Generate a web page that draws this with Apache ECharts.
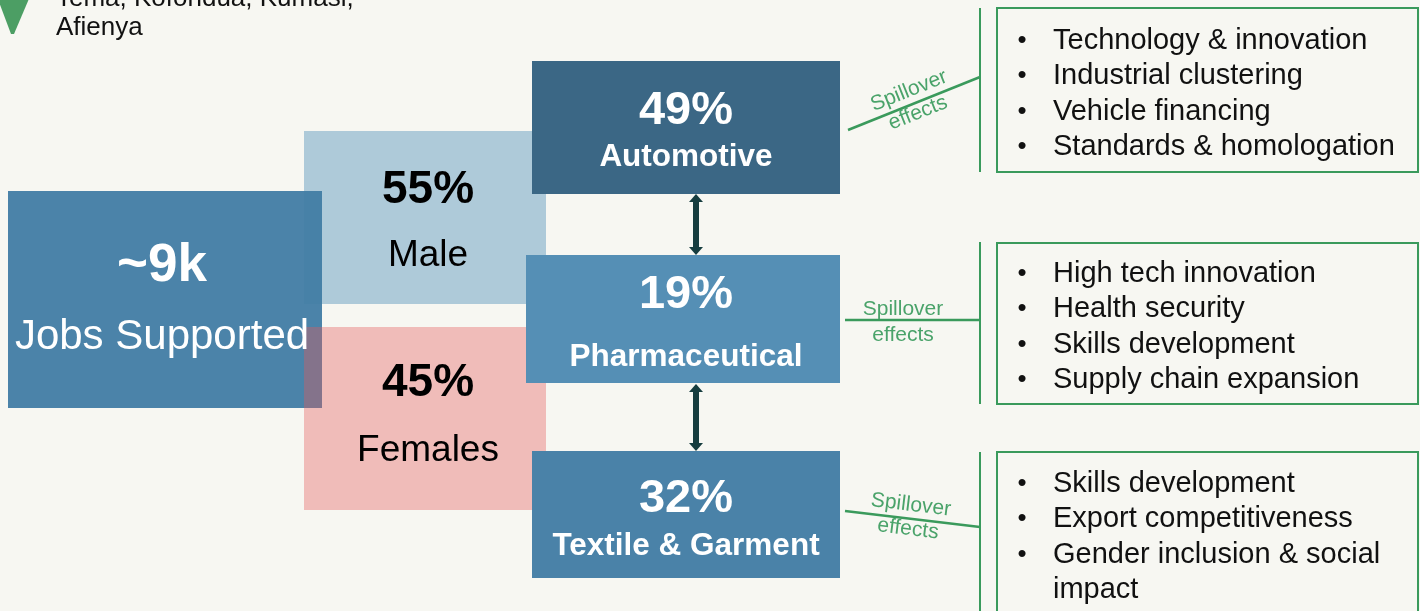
<!DOCTYPE html>
<html>
<head>
<meta charset="utf-8">
<script src="https://cdn.jsdelivr.net/npm/echarts@6/dist/echarts.min.js"></script>
<style>
	html,body{margin:0;padding:0;background:#f7f7f2;}
	#chart{width:1420px;height:611px;}
</style>
</head>
<body>
<div id="chart"></div>
<script>
	// values
	var locations = ['Tema, Koforidua, Kumasi,', 'Afienya'];
	var totalJobs = '~9k';
	var totalLabel = 'Jobs Supported';
	var genderLabels = ['Male', 'Females'];
	var genderShares = [55, 45];
	var sectorNames = ['Automotive', 'Pharmaceutical', 'Textile & Garment'];
	var sectorShares = [49, 19, 32];
	var spilloverLabel = ['Spillover', 'effects'];
	var autoEffects = ['Technology & innovation', 'Industrial clustering', 'Vehicle financing', 'Standards & homologation'];
	var pharmaEffects = ['High tech innovation', 'Health security', 'Skills development', 'Supply chain expansion'];
	var textileEffects = ['Skills development', 'Export competitiveness', 'Gender inclusion & social\nimpact'];
	var sectorEffects = [autoEffects, pharmaEffects, textileEffects];

	// layout
	var FONT = 'Liberation Sans';
	var GREEN = '#3a9a5c';
	var genderBoxes = [
		{x:304, y:131, w:242, h:173, fill:'#aecad9', opacity:1, numY:190, txtY:256},
		{x:304, y:327, w:242, h:183, fill:'#e45a5a', opacity:0.375, numY:383, txtY:451}
	];
	var sectorBoxes = [
		{x:532, y:61, w:308, h:133, fill:'#3b6785', numY:111, txtY:157},
		{x:526, y:255, w:314, h:128, fill:'#558fb5', numY:295, txtY:357},
		{x:532, y:451, w:308, h:127, fill:'#4a82a8', numY:499, txtY:546}
	];
	var effectBoxes = [
		{y:8, h:164, firstY:41},
		{y:243, h:161, firstY:274},
		{y:452, h:175, firstY:484}
	];
	var connectors = [
		{from:[848,130], to:[980,77], rot:0.38, lab:[[909,91],[918,113]]},
		{from:[845,320], to:[980,320], rot:0, lab:[[903,309],[903,335]]},
		{from:[845,511], to:[980,527], rot:-0.12, lab:[[911,505],[908,529]]}
	];
	var brackets = [[8,172],[242,404],[452,611]];
	var arrows = [[194,255],[384,451]];

	var els = [];

	var rect = function(x, y, w, h, fill, opacity, z){
		els.push({type:'rect', z:z || 1, shape:{x:x, y:y, width:w, height:h},
			style:{fill:fill, opacity:opacity == null ? 1 : opacity}});
	};

	var text = function(str, x, y, size, color, bold, opt){
		opt = opt || {};
		els.push({type:'text', z:10, x:x, y:y, rotation:opt.rotation || 0,
			style:{text:str, fill:color, fontFamily:FONT, fontSize:size, fontWeight:bold ? 'bold' : 'normal',
				textAlign:opt.align || 'center', textVerticalAlign:'middle', lineHeight:opt.lineHeight || size}});
	};

	var line = function(a, b, color, width){
		els.push({type:'line', z:5, shape:{x1:a[0], y1:a[1], x2:b[0], y2:b[1]},
			style:{stroke:color, lineWidth:width}});
	};

	// marker + locations
	els.push({type:'polygon', z:2, shape:{points:[[-4,-6],[31,-6],[14,34],[11,34]]}, style:{fill:'#4c9e64'}});
	text(locations[0], 56, -1, 26, '#111', false, {align:'left'});
	text(locations[1], 56, 28, 26, '#111', false, {align:'left'});

	// gender boxes, jobs box between them
	rect(genderBoxes[0].x, genderBoxes[0].y, genderBoxes[0].w, genderBoxes[0].h, genderBoxes[0].fill, 1, 1);
	rect(8, 191, 314, 217, '#417ca4', 0.95, 2);
	rect(genderBoxes[1].x, genderBoxes[1].y, genderBoxes[1].w, genderBoxes[1].h, genderBoxes[1].fill, genderBoxes[1].opacity, 3);
	text(totalJobs, 162, 266, 53, '#fff', true);
	text(totalLabel, 162, 337, 42, '#fff', false);
	for(var i = 0; i < genderLabels.length; i++){
		var g = genderBoxes[i];
		text(genderShares[i] + '%', g.x + g.w / 2 + 3, g.numY, 46, '#000', true);
		text(genderLabels[i], g.x + g.w / 2 + 3, g.txtY, 37, '#000', false);
	}

	// sector boxes
	for(var i = 0; i < sectorNames.length; i++){
		var s = sectorBoxes[i];
		rect(s.x, s.y, s.w, s.h, s.fill, 1, 4);
		text(sectorShares[i] + '%', 686, s.numY, 47, '#fff', true);
		text(sectorNames[i], 686, s.txtY, 31.5, '#fff', true);
	}

	// double headed arrows
	for(var i = 0; i < arrows.length; i++){
		var t = arrows[i][0], b = arrows[i][1], cx = 696;
		els.push({type:'polygon', z:6, shape:{points:[
			[cx, t], [cx + 7, t + 8], [cx + 3, t + 8], [cx + 3, b - 8], [cx + 7, b - 8],
			[cx, b], [cx - 7, b - 8], [cx - 3, b - 8], [cx - 3, t + 8], [cx - 7, t + 8]
		]}, style:{fill:'#163d3f'}});
	}

	// spillovers
	for(var i = 0; i < connectors.length; i++){
		var c = connectors[i];
		line(c.from, c.to, GREEN, 2.5);
		text(spilloverLabel[0], c.lab[0][0], c.lab[0][1], 21, '#4aa36a', false, {rotation:c.rot});
		text(spilloverLabel[1], c.lab[1][0], c.lab[1][1], 21, '#4aa36a', false, {rotation:c.rot});
		line([980, brackets[i][0]], [980, brackets[i][1]], GREEN, 2);

		var e = effectBoxes[i];
		els.push({type:'rect', z:5, shape:{x:997, y:e.y, width:421, height:e.h},
			style:{fill:'none', stroke:GREEN, lineWidth:2}});
		var items = sectorEffects[i], yy = e.firstY;
		for(var k = 0; k < items.length; k++){
			text('\u2022', 1022, yy, 26, '#111', false);
			var parts = items[k].split('\n');
			for(var p = 0; p < parts.length; p++){
				text(parts[p], 1053, yy, 29, '#111', false, {align:'left'});
				yy += 35.3;
			}
		}
	}

	var myChart = echarts.init(document.getElementById('chart'));
	myChart.setOption({
		backgroundColor:'#f7f7f2',
		animation:false,
		graphic:{elements:els}
	});
</script>
</body>
</html>
